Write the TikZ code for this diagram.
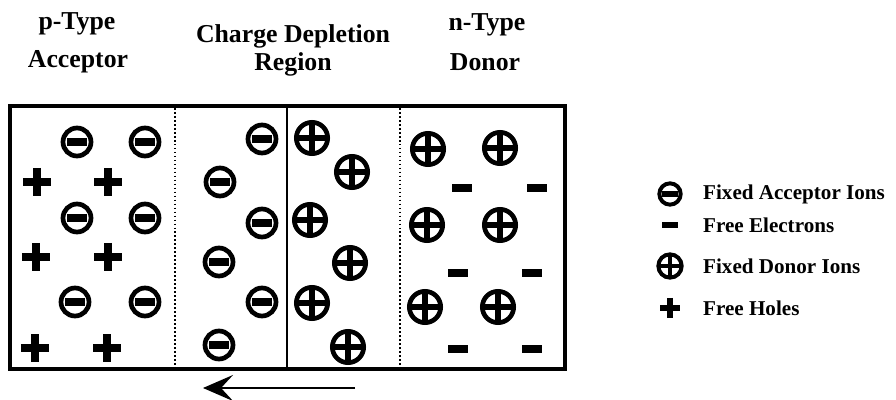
\documentclass[tikz,border=0pt]{standalone}
\usepackage{fontspec}
\setmainfont{Liberation Serif}
\usetikzlibrary{arrows.meta}
\begin{document}
\begin{tikzpicture}[x=0.03cm,y=-0.03cm,
  head/.style={font=\fontsize{22}{26}\selectfont\bfseries, inner sep=0pt},
  leg/.style={font=\fontsize{18}{22}\selectfont\bfseries, inner sep=0pt, anchor=west},
  accion/.style={circle, draw, line width=4pt, minimum size=0.84cm, inner sep=0pt,
     path picture={\fill ([xshift=-0.31cm,yshift=-0.13cm]path picture bounding box.center) rectangle ++(0.62cm,0.26cm);}},
  accleg/.style={circle, draw, line width=3.4pt, minimum size=0.64cm, inner sep=0pt,
     path picture={\fill ([xshift=-0.24cm,yshift=-0.1cm]path picture bounding box.center) rectangle ++(0.48cm,0.2cm);}},
  donion/.style={circle, draw, line width=4pt, minimum size=0.94cm, inner sep=0pt,
     path picture={\draw[line width=4.6pt] (path picture bounding box.north) -- (path picture bounding box.south)
        (path picture bounding box.west) -- (path picture bounding box.east);}},
  donleg/.style={circle, draw, line width=3.4pt, minimum size=0.7cm, inner sep=0pt,
     path picture={\draw[line width=4pt] (path picture bounding box.north) -- (path picture bounding box.south)
        (path picture bounding box.west) -- (path picture bounding box.east);}},
  hole/.style={rectangle, minimum size=0.84cm, inner sep=0pt,
     path picture={\draw[line width=6pt] (path picture bounding box.north) -- (path picture bounding box.south)
        (path picture bounding box.west) -- (path picture bounding box.east);}},
  holeleg/.style={rectangle, minimum size=0.6cm, inner sep=0pt,
     path picture={\draw[line width=5pt] (path picture bounding box.north) -- (path picture bounding box.south)
        (path picture bounding box.west) -- (path picture bounding box.east);}},
  elec/.style={rectangle, fill=black, minimum width=0.62cm, minimum height=0.22cm, inner sep=0pt},
  elecleg/.style={rectangle, fill=black, minimum width=0.48cm, minimum height=0.19cm, inner sep=0pt},
  frame/.style={line width=2.8pt},
  divdot/.style={line width=2pt, dash pattern=on 1.4pt off 2pt},
  divsolid/.style={line width=1.8pt},
  field/.style={line width=2pt, -{Stealth[length=0.9cm, width=0.78cm, inset=0.36cm]}}
]
\useasboundingbox (0,0) rectangle (896,400);

% headings
\node[head] (hp1) at (77,24) {p-Type};
\node[head] (hp2) at (78,62) {Acceptor};
\node[head] (hd1) at (293,36) {Charge Depletion};
\node[head] (hd2) at (293,64) {Region};
\node[head] (hn1) at (487,25) {n-Type};
\node[head] (hn2) at (485,62) {Donor};

% frame and dividers
\draw[frame] (10,106) rectangle (565,369);
\draw[divdot] (175,108) -- (175,367);
\draw[divsolid] (287,106) -- (287,369);
\draw[divdot] (400,108) -- (400,367);

% p-type region
\node[accion] (pa1) at (77,142) {};
\node[accion] (pa2) at (145,142) {};
\node[accion] (pa3) at (77,218) {};
\node[accion] (pa4) at (145,218) {};
\node[accion] (pa5) at (75,302) {};
\node[accion] (pa6) at (145,302) {};
\node[hole] (ph1) at (37,182) {};
\node[hole] (ph2) at (108,182) {};
\node[hole] (ph3) at (36,257) {};
\node[hole] (ph4) at (108,257) {};
\node[hole] (ph5) at (35,348) {};
\node[hole] (ph6) at (107,348) {};

% depletion region, p side
\node[accion] (da1) at (262,139) {};
\node[accion] (da2) at (220,182) {};
\node[accion] (da3) at (262,223) {};
\node[accion] (da4) at (219,262) {};
\node[accion] (da5) at (262,302) {};
\node[accion] (da6) at (219,345) {};

% depletion region, n side
\node[donion] (dd1) at (312,138) {};
\node[donion] (dd2) at (352,172) {};
\node[donion] (dd3) at (310,220) {};
\node[donion] (dd4) at (350,263) {};
\node[donion] (dd5) at (312,303) {};
\node[donion] (dd6) at (348,347) {};

% n-type region
\node[donion] (nd1) at (428,149) {};
\node[donion] (nd2) at (500,148) {};
\node[donion] (nd3) at (427,225) {};
\node[donion] (nd4) at (500,225) {};
\node[donion] (nd5) at (425,307) {};
\node[donion] (nd6) at (498,307) {};
\node[elec] (ne1) at (462,188) {};
\node[elec] (ne2) at (537,188) {};
\node[elec] (ne3) at (458,273) {};
\node[elec] (ne4) at (532,273) {};
\node[elec] (ne5) at (458,349) {};
\node[elec] (ne6) at (532,349) {};

% field arrow
\coordinate (arS) at (355,388);
\coordinate (arE) at (203,388);
\draw[field] (arS) -- (arE);

% legend
\node[accleg] (l1) at (670,194) {};
\node[leg] (t1) at (703,194) {Fixed Acceptor Ions};
\node[elecleg] (l2) at (670,225) {};
\node[leg] (t2) at (703,225) {Free Electrons};
\node[donleg] (l3) at (670,266) {};
\node[leg] (t3) at (703,266) {Fixed Donor Ions};
\node[holeleg] (l4) at (670,308) {};
\node[leg] (t4) at (703,308) {Free Holes};
\end{tikzpicture}
\end{document}
